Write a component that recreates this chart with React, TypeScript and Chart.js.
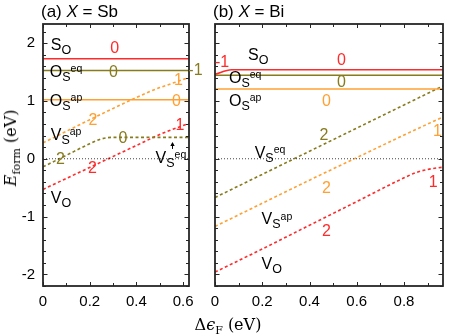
import React, { useEffect, useRef } from 'react';
import { Chart, registerables } from 'chart.js';
Chart.register(...registerables);

const RED = '#ff2b2b';
const OLIVE = '#877b1e';
const ORANGE = '#ffa033';
const FRAME = '#262626';
const SANS = "'Liberation Sans', Arial, Helvetica, sans-serif";
const SERIF = "'DejaVu Serif', 'Liberation Serif', serif";

const Y_MIN = -2.2;
const Y_MAX = 2.33;
const A_XMAX = 0.625;
const B_XMAX = 0.965;

const yTickValues = [-2, -1, 0, 1, 2];
const aXTickValues = [0, 0.2, 0.4, 0.6];
const bXTickValues = [0, 0.2, 0.4, 0.6, 0.8];

// ---------- Panel (a): X = Sb ----------
const aSoX = [0, 0.625];
const aSoY = [1.73, 1.73];
const aOseqX = [0, 0.625];
const aOseqY = [1.525, 1.525];
const aOapX = [0, 0.625];
const aOapY = [1.02, 1.02];
const aVapX = [0, 0.1, 0.2, 0.3, 0.4, 0.45, 0.5, 0.55, 0.6, 0.625];
const aVapY = [0.275, 0.475, 0.675, 0.87, 1.06, 1.15, 1.23, 1.3, 1.37, 1.41];
const aVseqX = [0, 0.1, 0.2, 0.24, 0.27, 0.3, 0.625];
const aVseqY = [-0.14, 0.06, 0.26, 0.33, 0.36, 0.37, 0.37];
const aVoX = [0, 0.1, 0.2, 0.3, 0.4, 0.5, 0.55, 0.6, 0.625];
const aVoY = [-0.53, -0.34, -0.15, 0.04, 0.23, 0.42, 0.5, 0.575, 0.61];

// ---------- Panel (b): X = Bi ----------
const bSoX = [0, 0.07, 0.965];
const bSoY = [1.46, 1.54, 1.54];
const bOseqX = [0, 0.965];
const bOseqY = [1.445, 1.445];
const bOapX = [0, 0.965];
const bOapY = [1.205, 1.205];
const bVseqX = [0, 0.2, 0.4, 0.6, 0.8, 0.965];
const bVseqY = [-0.67, -0.27, 0.13, 0.53, 0.93, 1.26];
const bVapX = [0, 0.2, 0.4, 0.6, 0.8, 0.9, 0.965];
const bVapY = [-1.17, -0.77, -0.37, 0.02, 0.41, 0.6, 0.72];
const bVoX = [0, 0.2, 0.4, 0.6, 0.8, 0.85, 0.9, 0.965];
const bVoY = [-1.96, -1.56, -1.15, -0.74, -0.33, -0.24, -0.185, -0.145];

type Part = [string, number];
type Lbl = { x: number; y: number; parts: Part[]; color: string; center?: boolean };

const sp = (main: string, sub: string, sup?: string): Part[] =>
  sup ? [[main, 0], [sub, 1], [sup, 2]] : [[main, 0], [sub, 1]];
const num = (s: string): Part[] => [[s, 0]];

const aLabels: Lbl[] = [
  { x: 0.033, y: 1.88, parts: sp('S', 'O'), color: '#000' },
  { x: 0.307, y: 1.83, parts: num('0'), color: RED, center: true },
  { x: 0.029, y: 1.42, parts: sp('O', 'S', 'eq'), color: '#000' },
  { x: 0.302, y: 1.42, parts: num('0'), color: OLIVE, center: true },
  { x: 0.622, y: 1.45, parts: num('-1'), color: OLIVE },
  { x: 0.029, y: 0.917, parts: sp('O', 'S', 'ap'), color: '#000' },
  { x: 0.571, y: 0.917, parts: num('0'), color: ORANGE, center: true },
  { x: 0.214, y: 0.59, parts: num('2'), color: ORANGE, center: true },
  { x: 0.58, y: 1.27, parts: num('1'), color: ORANGE, center: true },
  { x: 0.033, y: 0.332, parts: sp('V', 'S', 'ap'), color: '#000' },
  { x: 0.342, y: 0.275, parts: num('0'), color: OLIVE, center: true },
  { x: 0.075, y: -0.098, parts: num('2'), color: OLIVE, center: true },
  { x: 0.586, y: 0.504, parts: num('1'), color: RED, center: true },
  { x: 0.212, y: -0.253, parts: num('2'), color: RED, center: true },
  { x: 0.482, y: -0.069, parts: sp('V', 'S', 'eq'), color: '#000' },
  { x: 0.033, y: -0.757, parts: sp('V', 'O'), color: '#000' },
];

const bLabels: Lbl[] = [
  { x: 0.0, y: 1.59, parts: num('-1'), color: RED },
  { x: 0.14, y: 1.71, parts: sp('S', 'O'), color: '#000' },
  { x: 0.535, y: 1.62, parts: num('0'), color: RED, center: true },
  { x: 0.059, y: 1.31, parts: sp('O', 'S', 'eq'), color: '#000' },
  { x: 0.535, y: 1.24, parts: num('0'), color: OLIVE, center: true },
  { x: 0.059, y: 0.917, parts: sp('O', 'S', 'ap'), color: '#000' },
  { x: 0.472, y: 0.905, parts: num('0'), color: ORANGE, center: true },
  { x: 0.461, y: 0.332, parts: num('2'), color: OLIVE, center: true },
  { x: 0.942, y: 0.4, parts: num('1'), color: ORANGE, center: true },
  { x: 0.168, y: 0.017, parts: sp('V', 'S', 'eq'), color: '#000' },
  { x: 0.472, y: -0.585, parts: num('2'), color: ORANGE, center: true },
  { x: 0.197, y: -1.13, parts: sp('V', 'S', 'ap'), color: '#000' },
  { x: 0.472, y: -1.34, parts: num('2'), color: RED, center: true },
  { x: 0.923, y: -0.48, parts: num('1'), color: RED, center: true },
  { x: 0.197, y: -1.905, parts: sp('V', 'O'), color: '#000' },
];

// arrow pointing at V_S^eq curve in panel (a): [x, yTail, yTip]
const aArrow = [0.553, 0.17, 0.29];

const LEVELS = [
  { size: 16, dy: 0 },
  { size: 12.5, dy: 4 },
  { size: 10.5, dy: -4.5 },
  { size: 17, dy: 0 },
];

function drawRich(ctx: CanvasRenderingContext2D, x: number, y: number, parts: Part[], color: string, center?: boolean, italicIdx?: number) {
  ctx.save();
  ctx.fillStyle = color;
  ctx.textBaseline = 'alphabetic';
  ctx.textAlign = 'left';
  let w = 0;
  parts.forEach(([t, l], i) => {
    ctx.font = `${i === italicIdx ? 'italic ' : ''}${LEVELS[l].size}px ${SANS}`;
    w += ctx.measureText(t).width;
  });
  let cx = center ? x - w / 2 : x;
  parts.forEach(([t, l], i) => {
    ctx.font = `${i === italicIdx ? 'italic ' : ''}${LEVELS[l].size}px ${SANS}`;
    ctx.fillText(t, cx, y + LEVELS[l].dy);
    cx += ctx.measureText(t).width;
  });
  ctx.restore();
}

function line(xs: number[], ys: number[], color: string, dashed: boolean, width = 1.6) {
  return {
    data: xs.map((x, i) => ({ x, y: ys[i] })),
    borderColor: color,
    borderWidth: width,
    borderDash: dashed ? [3, 2.5] : [],
    pointRadius: 0,
    fill: false,
    tension: dashed ? 0.4 : 0,
    cubicInterpolationMode: 'monotone' as const,
  };
}

type PanelCfg = {
  xMax: number;
  xTicks: number[];
  showYLabels: boolean;
  padRight: number;
  yWidth: number;
  datasets: any[];
  labels: Lbl[];
  title: string;
  titleEnd: string;
  arrow?: number[];
};

function makePlugin(cfg: PanelCfg) {
  return {
    id: 'panelDeco',
    afterDraw(chart: any) {
      const { ctx, chartArea: a } = chart;
      const xs = chart.scales.x;
      const ys = chart.scales.y;
      ctx.save();
      // inward ticks
      ctx.strokeStyle = FRAME;
      ctx.lineWidth = 1;
      for (let k = -11; k <= 12; k++) {
        const v = k * 0.2;
        if (v < Y_MIN || v > Y_MAX) continue;
        const py = Math.round(ys.getPixelForValue(v)) + 0.5;
        const major = Math.abs(v - Math.round(v)) < 1e-6;
        const len = major ? 4.5 : 3;
        ctx.beginPath();
        ctx.moveTo(a.left, py); ctx.lineTo(a.left + len, py);
        ctx.moveTo(a.right, py); ctx.lineTo(a.right - len, py);
        ctx.stroke();
      }
      for (let k = 0; k <= 10; k++) {
        const v = k * 0.1;
        if (v > cfg.xMax) continue;
        const px = Math.round(xs.getPixelForValue(v)) + 0.5;
        const major = k % 2 === 0;
        const len = major ? 4 : 3;
        ctx.beginPath();
        ctx.moveTo(px, a.bottom); ctx.lineTo(px, a.bottom - len);
        ctx.moveTo(px, a.top); ctx.lineTo(px, a.top + len);
        ctx.stroke();
      }
      // frame
      ctx.lineWidth = 1.8;
      ctx.strokeRect(a.left, a.top, a.right - a.left, a.bottom - a.top);
      ctx.restore();
      // text labels
      cfg.labels.forEach((l) => {
        drawRich(ctx, xs.getPixelForValue(l.x), ys.getPixelForValue(l.y), l.parts, l.color, l.center);
      });
      // arrow
      if (cfg.arrow) {
        const [ax, y0, y1] = cfg.arrow;
        const px = Math.round(xs.getPixelForValue(ax)) + 0.5;
        const pt = ys.getPixelForValue(y0);
        const ph = ys.getPixelForValue(y1);
        ctx.save();
        ctx.strokeStyle = '#000';
        ctx.fillStyle = '#000';
        ctx.lineWidth = 1;
        ctx.beginPath(); ctx.moveTo(px, pt); ctx.lineTo(px, ph + 2); ctx.stroke();
        ctx.beginPath(); ctx.moveTo(px, ph); ctx.lineTo(px - 2.2, ph + 4); ctx.lineTo(px + 2.2, ph + 4); ctx.closePath(); ctx.fill();
        ctx.restore();
      }
      // panel title
      drawRich(ctx, a.left - 2, a.top - 7, [[cfg.title, 3], ['X', 3], [cfg.titleEnd, 3]], '#000', false, 1);
    },
  };
}

function Panel({ cfg }: { cfg: PanelCfg }) {
  const ref = useRef<HTMLCanvasElement>(null);
  useEffect(() => {
    if (!ref.current) return;
    const chart = new Chart(ref.current, {
      type: 'line',
      data: { datasets: cfg.datasets },
      options: {
        responsive: false,
        maintainAspectRatio: false,
        animation: false,
        events: [],
        layout: { padding: { top: 24, right: cfg.padRight, bottom: 0, left: 0 } },
        plugins: { legend: { display: false }, tooltip: { enabled: false }, title: { display: false } },
        scales: {
          x: {
            type: 'linear',
            min: 0,
            max: cfg.xMax,
            afterFit: (s: any) => { s.height = 50; },
            afterBuildTicks: (s: any) => { s.ticks = cfg.xTicks.map((v) => ({ value: v })); },
            grid: { display: false, drawTicks: false },
            border: { display: false },
            ticks: {
              padding: 7,
              color: '#000',
              font: { family: SANS, size: 15 },
              maxRotation: 0,
              autoSkip: false,
              callback: (v: any) => (Number(v) === 0 ? '0' : Number(v).toFixed(1)),
            },
          },
          y: {
            type: 'linear',
            min: Y_MIN,
            max: Y_MAX,
            afterFit: (s: any) => { s.width = cfg.yWidth; },
            afterBuildTicks: (s: any) => { s.ticks = yTickValues.map((v) => ({ value: v })); },
            grid: { display: false, drawTicks: false },
            border: { display: false },
            ticks: {
              display: cfg.showYLabels,
              padding: 8,
              color: '#000',
              font: { family: SANS, size: 15 },
              callback: (v: any) => String(v),
            },
          },
        },
      },
      plugins: [makePlugin(cfg)],
    } as any);
    return () => chart.destroy();
  }, [cfg]);
  return (
    <canvas
      ref={ref}
      width={452}
      height={336}
      style={{ position: 'absolute', left: 0, top: 0, width: 452, height: 336 }}
    />
  );
}

const zeroA = line([0, A_XMAX], [0, 0], '#111', false, 0.8);
zeroA.borderDash = [1, 2];
const zeroB = line([0, B_XMAX], [0, 0], '#111', false, 0.8);
zeroB.borderDash = [1, 2];

const panelA: PanelCfg = {
  xMax: A_XMAX,
  xTicks: aXTickValues,
  showYLabels: true,
  padRight: 452 - 189,
  yWidth: 43,
  title: '(a) ',
  titleEnd: ' = Sb',
  arrow: aArrow,
  labels: aLabels,
  datasets: [
    zeroA,
    line(aSoX, aSoY, RED, false),
    line(aOseqX, aOseqY, OLIVE, false),
    line(aOapX, aOapY, ORANGE, false),
    line(aVapX, aVapY, ORANGE, true),
    line(aVseqX, aVseqY, OLIVE, true),
    line(aVoX, aVoY, RED, true),
  ],
};

const panelB: PanelCfg = {
  xMax: B_XMAX,
  xTicks: bXTickValues,
  showYLabels: false,
  padRight: 9,
  yWidth: 215,
  title: '(b) ',
  titleEnd: ' = Bi',
  labels: bLabels,
  datasets: [
    zeroB,
    line(bSoX, bSoY, RED, false),
    line(bOseqX, bOseqY, OLIVE, false),
    line(bOapX, bOapY, ORANGE, false),
    line(bVseqX, bVseqY, OLIVE, true),
    line(bVapX, bVapY, ORANGE, true),
    line(bVoX, bVoY, RED, true),
  ],
};

export default function App() {
  return (
    <div style={{ position: 'absolute', left: 0, top: 0, width: 452, height: 336, background: '#fff', overflow: 'hidden' }}>
      <Panel cfg={panelA} />
      <Panel cfg={panelB} />
      <div
        style={{
          position: 'absolute', left: 11, top: 148, transform: 'translate(-50%, -50%) rotate(-90deg)',
          whiteSpace: 'nowrap', fontFamily: SERIF, fontSize: 16, color: '#000', lineHeight: 1,
        }}
      >
        <i>E</i><span style={{ fontSize: 11, position: 'relative', top: 4 }}>form</span> (eV)
      </div>
      <div
        style={{
          position: 'absolute', left: 228, top: 325, transform: 'translate(-50%, -50%)',
          whiteSpace: 'nowrap', fontFamily: SERIF, fontSize: 16, color: '#000', lineHeight: 1,
        }}
      >
        Δ<i>ϵ</i><span style={{ fontSize: 11, position: 'relative', top: 4 }}>F</span> (eV)
      </div>
    </div>
  );
}
